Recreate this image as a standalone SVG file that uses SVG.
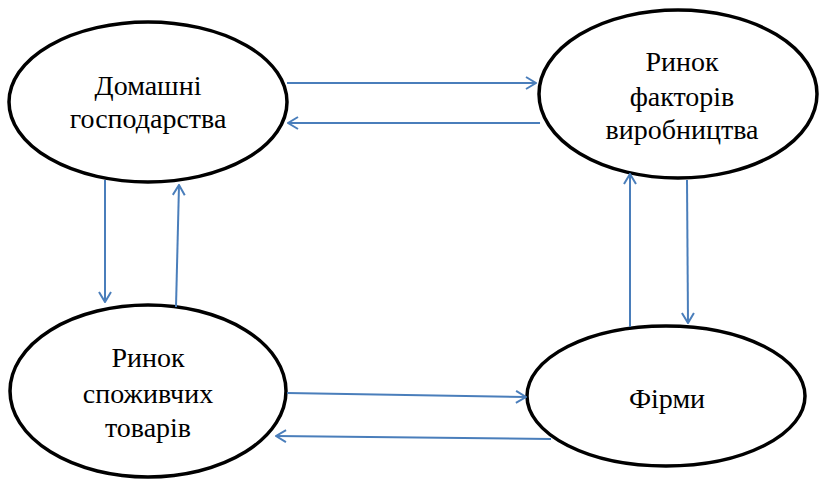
<svg xmlns="http://www.w3.org/2000/svg" width="819" height="479" viewBox="0 0 819 479">
<style>
.node ellipse{fill:#fff;stroke:#000;stroke-width:3.5}
.node text{font-family:"Liberation Serif","Times New Roman",serif;font-size:28px;fill:#000;text-anchor:middle}
.conn line{stroke:#4a7ebb;stroke-width:2;fill:none;marker-end:url(#ah)}
</style>
<defs>
<marker id="ah" viewBox="0 0 12 14" refX="11" refY="7" markerWidth="12" markerHeight="14" markerUnits="userSpaceOnUse" orient="auto">
<polyline points="1,1 11,7 1,13" fill="none" stroke="#4a7ebb" stroke-width="2"/>
</marker>
</defs>
<rect width="819" height="479" fill="#fff"/>
<g id="households" class="node">
<ellipse cx="148" cy="102" rx="139" ry="80"/>
<text x="148" y="95">Домашні</text>
<text x="148" y="128">господарства</text>
</g>
<g id="factor-market" class="node">
<ellipse cx="678" cy="94" rx="139" ry="84"/>
<text x="682" y="71">Ринок</text>
<text x="682" y="106">факторів</text>
<text x="682" y="139">виробництва</text>
</g>
<g id="goods-market" class="node">
<ellipse cx="148" cy="391" rx="138" ry="86"/>
<text x="148" y="367">Ринок</text>
<text x="148" y="403">споживчих</text>
<text x="148" y="437">товарів</text>
</g>
<g id="firms" class="node">
<ellipse cx="666" cy="396" rx="139" ry="70"/>
<text x="667" y="408">Фірми</text>
</g>
<g id="connectors" class="conn">
<line x1="287" y1="83" x2="536" y2="83"/>
<line x1="540" y1="123" x2="288" y2="123"/>
<line x1="105" y1="180" x2="105" y2="302"/>
<line x1="176" y1="307" x2="179" y2="185"/>
<line x1="630" y1="327" x2="630" y2="174"/>
<line x1="687" y1="180" x2="688" y2="323"/>
<line x1="287" y1="393" x2="526" y2="397"/>
<line x1="551" y1="439" x2="276" y2="436"/>
</g>
</svg>
